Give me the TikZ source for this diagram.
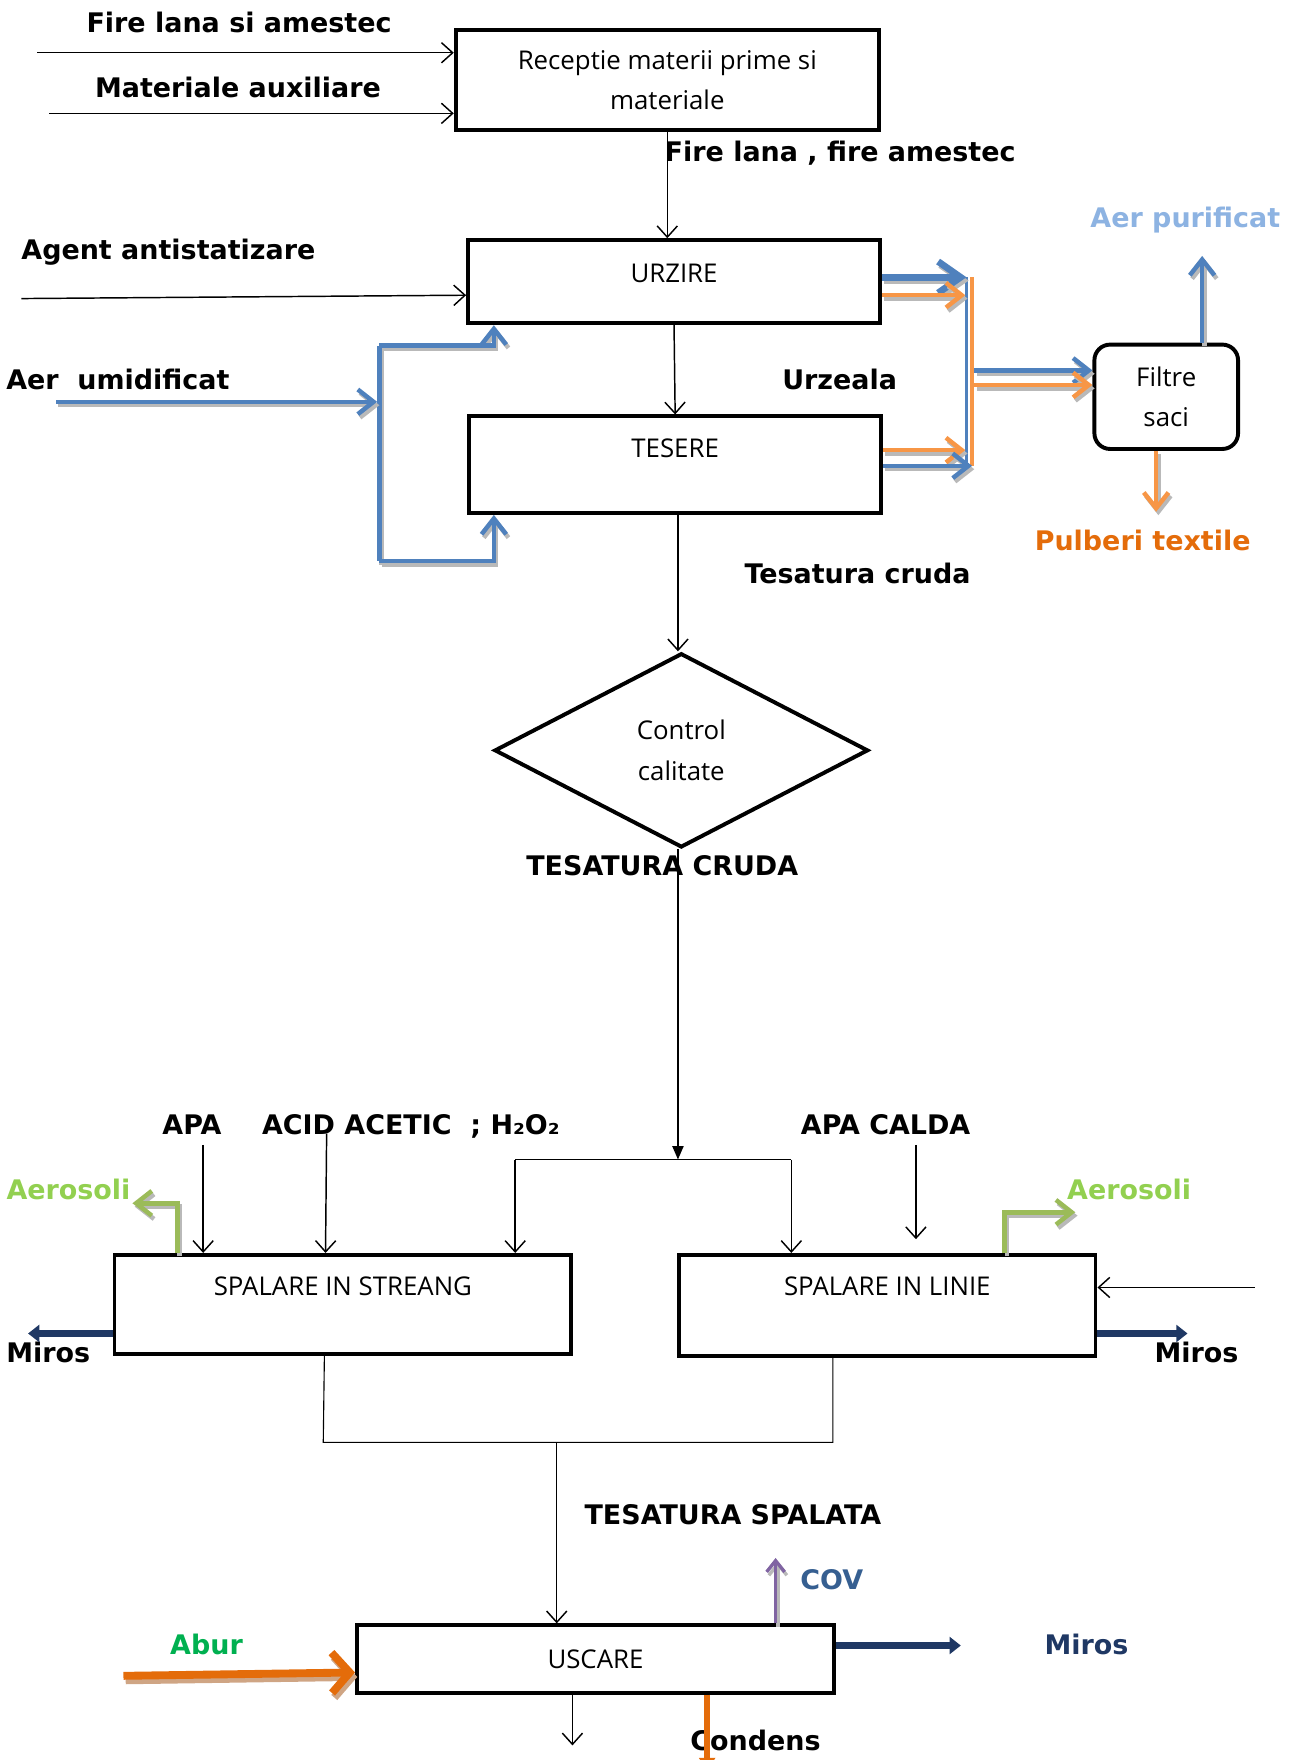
\documentclass[tikz,border=0pt]{standalone}
\usepackage{fontspec}
\setmainfont{Open Sans}
\newfontfamily\lblfont{DejaVu Sans}
\usetikzlibrary{arrows.meta,shapes.geometric}
\definecolor{bluec}{HTML}{4F81BD}
\definecolor{orangec}{HTML}{F79646}
\definecolor{dorange}{HTML}{E46C0A}
\definecolor{greenl}{HTML}{9BBB59}
\definecolor{greent}{HTML}{92D050}
\definecolor{navy}{HTML}{1F3864}
\definecolor{purplec}{HTML}{8064A2}
\definecolor{aburg}{HTML}{00B050}
\definecolor{covc}{HTML}{365F91}
\definecolor{aerp}{HTML}{8DB3E2}
\definecolor{tanshadow}{HTML}{CFA584}
\begin{document}
\begin{tikzpicture}[x=1pt,y=-1pt,
  box/.style={draw, line width=3.5pt, inner sep=0pt, font=\fontsize{23}{36}\selectfont, align=center},
  lbl/.style={font=\lblfont\fontsize{24}{28}\selectfont\bfseries, inner sep=0pt, text height=17.5pt, text depth=0pt},
  thinarrow/.style={line width=1.3pt, -{Straight Barb[length=10pt,width=18pt]}},
  shad/.style={preaction={draw=gray!55, line width=#1, transform canvas={shift={(2,3)}}}},
  ctip/.style={-{Straight Barb[length=14pt,width=22pt]}},
  bline/.style={draw=bluec, line width=4pt, shad=4pt},
  barrow/.style={draw=bluec, line width=4pt, shad=4pt, ctip},
  oarrow/.style={draw=orangec, line width=4pt, shad=4pt, ctip},
  garrow/.style={draw=greenl, line width=4pt, shad=4pt, ctip},
  narrow/.style={draw=navy, line width=6pt, -{Triangle[length=10pt,width=15pt]}},
]
\useasboundingbox (0,0) rectangle (1152,1568);

% ---------- nodes ----------
\node[box, minimum width=377pt, minimum height=89pt] (rec) at (594.5,71.5) {Receptie materii prime si\\materiale};
\node[box, minimum width=367pt, minimum height=74pt, text height=16.5pt, text depth=16pt] (urz) at (600.5,251) {URZIRE};
\node[box, minimum width=367pt, minimum height=86pt, text height=16.5pt, text depth=30pt] (tes) at (601.5,414) {TESERE};
\node[box, rounded corners=14pt, minimum width=128pt, minimum height=93pt] (fil) at (1039,353.5) {Filtre\\saci};
\node[box, diamond, minimum width=333pt, minimum height=173pt] (dia) at (607,668.5) {Control\\calitate};
\node[box, minimum width=407pt, minimum height=88pt, text height=16.5pt, text depth=32pt] (str) at (305.5,1162) {SPALARE IN STREANG};
\node[box, minimum width=371pt, minimum height=90pt, text height=16.5pt, text depth=34pt] (lin) at (790.5,1163) {SPALARE IN LINIE};
\node[box, minimum width=425pt, minimum height=60pt, text height=16.5pt, text depth=0pt] (usc) at (530.5,1478) {USCARE};

% ---------- labels ----------
\node[lbl] (l1) at (213,20) {Fire lana si amestec};
\node[lbl] (l2) at (212,78) {Materiale auxiliare};
\node[lbl, anchor=west] (l3) at (592,135) {Fire lana , fire amestec};
\node[lbl] (l4) at (150,222) {Agent antistatizare};
\node[lbl] (l5) at (105,338) {Aer\ \ umidificat};
\node[lbl] (l6) at (748,338) {Urzeala};
\node[lbl, text=aerp] (l7) at (1056,194) {Aer purificat};
\node[lbl, text=dorange] (l8) at (1018,482) {Pulberi textile};
\node[lbl] (l9) at (764,511) {Tesatura cruda};
\node[lbl] (l10) at (590,771) {TESATURA CRUDA};
\node[lbl] (l11) at (171,1002) {APA};
\node[lbl] (l12) at (366,1002) {ACID ACETIC\ \ ; H₂O₂};
\node[lbl] (l13) at (789,1002) {APA CALDA};
\node[lbl, text=greent] (l14) at (61,1060) {Aerosoli};
\node[lbl, text=greent] (l15) at (1006,1060) {Aerosoli};
\node[lbl] (l16) at (43,1205) {Miros};
\node[lbl] (l17) at (1066,1205) {Miros};
\node[lbl] (l18) at (653,1349) {TESATURA SPALATA};
\node[lbl, text=covc] (l19) at (741,1407) {COV};
\node[lbl, text=navy] (l20) at (968,1465) {Miros};
\node[lbl, text=aburg] (l21) at (184,1465) {Abur};
\node[lbl] (l22) at (673,1551) {Condens};

% ---------- coordinates ----------
\coordinate (i1) at (33,47);
\coordinate (i2) at (44,101);
\coordinate (i3) at (19,266);
\coordinate (i3e) at (417,263);
\coordinate (jn) at (604,1033);
\coordinate (jl) at (459,1033);
\coordinate (jr) at (705,1033);
\coordinate (apa) at (181,1020);
\coordinate (acid) at (291,1010);
\coordinate (acide) at (290,0);
\coordinate (ac1) at (816,1020);
\coordinate (ac2) at (816,1104);
\coordinate (ri) at (1118,1147);
\coordinate (ms1) at (289,0);
\coordinate (ml) at (288,1285);
\coordinate (mr) at (742,1285);
\coordinate (mm) at (496,1285);
\coordinate (uo) at (510,1555);
\coordinate (au) at (50,358);
\coordinate (av) at (336,358);
\coordinate (avt) at (338,308);
\coordinate (avb) at (338,500);
\coordinate (ut) at (440,0);
\coordinate (vbt) at (861,247);
\coordinate (vbb) at (861,415);
\coordinate (vot) at (866,247);
\coordinate (vob) at (866,415);
\coordinate (o1) at (860,263);
\coordinate (o2) at (860,401);
\coordinate (b2) at (866,415);
\coordinate (f1) at (868,330);
\coordinate (f2) at (868,343);
\coordinate (ap) at (1071,228);
\coordinate (pu) at (1030,456);
\coordinate (gl) at (118,1072);
\coordinate (gl0) at (158,0);
\coordinate (gr) at (958,1080);
\coordinate (gr0) at (895,0);
\coordinate (ml1) at (25,1188);
\coordinate (mr1) at (1058,1188);
\coordinate (mu) at (856,1466);
\coordinate (ab) at (110,1493);
\coordinate (abe) at (0,1490);
\coordinate (cov) at (691,1388);
\coordinate (cd) at (630,1578);

% ---------- black connectors ----------
\draw[thinarrow] (i1) -- (rec.west |- i1);
\draw[thinarrow] (i2) -- (rec.west |- i2);
\draw[thinarrow] (rec.south) -- (rec.south |- urz.north);
\draw[thinarrow] (i3) -- (urz.west |- i3e);
\draw[thinarrow] (urz.south) -- (tes.north);
\draw[thinarrow] (tes.south -| jn) -- (dia.north -| jn);
\draw[line width=1.3pt, -{Triangle[length=12pt,width=10pt]}] (dia.south -| jn) -- (jn);
\draw[line width=1.2pt] (jl) -- (jr);
\draw[thinarrow] (jl) -- (str.north -| jl);
\draw[thinarrow] (jr) -- (lin.north -| jr);
\draw[thinarrow] (apa) -- (str.north -| apa);
\draw[thinarrow] (acid) -- (str.north -| acide);
\draw[thinarrow] (ac1) -- (ac2);
\draw[thinarrow] (ri) -- (lin.east |- ri);
\draw[line width=1pt] (str.south -| ms1) -- (ml) -- (mr) -- (lin.south -| mr);
\draw[thinarrow] (mm) -- (usc.north -| mm);
\draw[thinarrow] (usc.south -| uo) -- (uo);

% ---------- air / dust ----------
\draw[bline] (avt) -- (avb);
\draw[barrow] (au) -- (av);
\draw[barrow] (avt) -- (avt -| ut) -- (urz.south -| ut);
\draw[barrow] (avb) -- (avb -| ut) -- (tes.south -| ut);

\draw[draw=bluec, line width=2pt] (vbt) -- (vbb);
\draw[draw=orangec, line width=3.5pt] (vot) -- (vob);
\draw[draw=bluec, line width=6pt, shad=6pt, -{Straight Barb[length=20pt,width=28pt]}] (urz.east |- vbt) -- (vbt);
\draw[oarrow] (urz.east |- o1) -- (o1);
\draw[oarrow] (tes.east |- o2) -- (o2);
\draw[barrow] (tes.east |- b2) -- (b2);
\draw[barrow] (f1) -- (fil.west |- f1);
\draw[oarrow] (f2) -- (fil.west |- f2);
\draw[barrow] (fil.north -| ap) -- (ap);
\draw[oarrow] (fil.south -| pu) -- (pu);

% ---------- washing ----------
\draw[garrow] (str.north -| gl0) -- (gl -| gl0) -- (gl);
\draw[garrow] (lin.north -| gr0) -- (gr -| gr0) -- (gr);
\draw[narrow] (str.west |- ml1) -- (ml1);
\draw[narrow] (lin.east |- mr1) -- (mr1);

% ---------- drying ----------
\draw[narrow, line width=7pt] (usc.east |- mu) -- (mu);
\draw[draw=dorange, line width=7pt, preaction={draw=tanshadow, line width=7pt, transform canvas={shift={(2,4)}}}, -{Straight Barb[length=16pt,width=36pt]}] (ab) -- (usc.west |- abe);
\draw[draw=purplec, line width=3pt, shad=3pt, -{Straight Barb[length=10pt,width=16pt]}] (usc.north -| cov) -- (cov);
\draw[draw=dorange, line width=5pt, -{Triangle[length=12pt,width=14pt]}] (usc.south -| cd) -- (cd);
\end{tikzpicture}
\end{document}
